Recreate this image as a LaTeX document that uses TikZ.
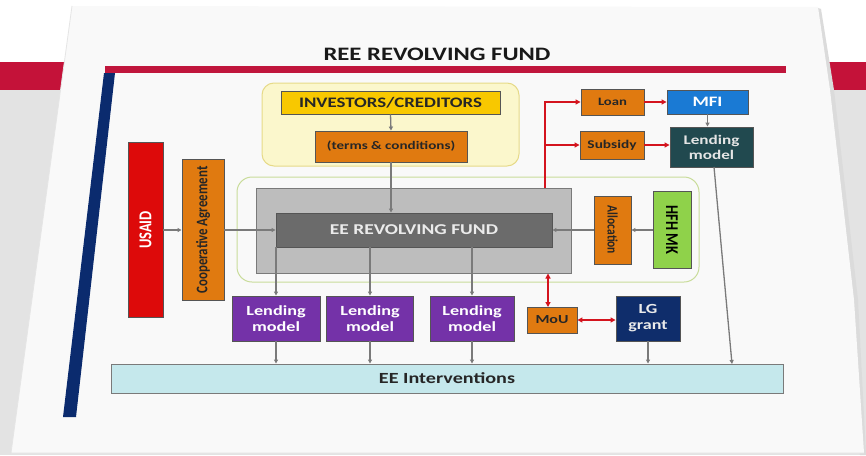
\documentclass[tikz,border=0pt]{standalone}
\usepackage{fontspec}
\setmainfont{Carlito}[FakeStretch=1.3]
\newfontfamily\rotfont{Carlito}
\usetikzlibrary{arrows.meta}
\newcommand\fsz[2]{\fontsize{#1}{#2}\selectfont}
\newcommand\vtext[2]{\rotatebox{#1}{\scalebox{1}[1.25]{#2}}}
\definecolor{bgc}{HTML}{E3E3E3}
\definecolor{bandc}{HTML}{C41239}
\definecolor{slidec}{HTML}{F9F9F9}
\definecolor{barred}{HTML}{C0163C}
\definecolor{barblue}{HTML}{0B2B6E}
\definecolor{bordc}{HTML}{555555}
\definecolor{linec}{HTML}{7A7A7A}
\definecolor{redc}{HTML}{D4141E}
\definecolor{goldc}{HTML}{F8C800}
\definecolor{orangec}{HTML}{E07A10}
\definecolor{purplec}{HTML}{7432A8}
\definecolor{tealc}{HTML}{21494F}
\definecolor{navyc}{HTML}{0F2D6B}
\definecolor{mfic}{HTML}{1A7AD4}
\definecolor{usaidc}{HTML}{DD0A0A}
\definecolor{hfhc}{HTML}{8FD24A}
\definecolor{greyc}{HTML}{BDBDBD}
\definecolor{fundc}{HTML}{6B6B6B}
\definecolor{intc}{HTML}{C5E8EC}
\definecolor{yelc}{HTML}{FBF7CC}
\definecolor{yelb}{HTML}{E6DA88}
\definecolor{grnb}{HTML}{C9DC9A}
\begin{document}
\begin{tikzpicture}[x=1pt,y=-1pt,
  box/.style={draw=bordc, line width=0.9pt, inner sep=0pt, align=center, font=\bfseries},
  garrow/.style={draw=linec, line width=1.3pt, -{Triangle[length=4pt,width=4pt]}},
  rarrow/.style={draw=redc, line width=1.5pt, -{Triangle[length=5pt,width=5pt]}},
  rdarrow/.style={draw=redc, line width=1.5pt, {Triangle[length=5pt,width=5pt]}-{Triangle[length=5pt,width=5pt]}},
  lmbox/.style={box, fill=purplec, text=white, font=\bfseries\fsz{14}{16}, minimum height=45pt},
  obox/.style={box, fill=orangec, text=black!85}
]
\useasboundingbox (0,0) rectangle (866,455);
% background
\fill[bgc] (0,0) rectangle (866,455);
\fill[white] (0,0) rectangle (866,62);
\fill[bandc] (0,62) rectangle (866,90);
% slide
\fill[black!14] (821,9) -- (834,90) -- (858,300) -- (866,455) -- (860,455) -- (850,300) -- (826,90) -- (815,7) -- cycle;
\fill[slidec] (72,6) -- (818,7) -- (830,90) -- (854,300) -- (864,453) -- (11,453) -- cycle;
\draw[black!10, line width=0.8pt] (72,6) -- (11,453) -- (864,453);
\fill[barred] (105,66) rectangle (786,73);
\fill[barblue] (104,73) -- (115,73) -- (76,417) -- (63,417) -- cycle;
\node[font=\bfseries\fsz{19}{20}, text=black!90] (title) at (437,54) {REE REVOLVING FUND};
% containers
\node[draw=yelb, fill=yelc, line width=1pt, rounded corners=12pt, minimum width=257pt, minimum height=83pt, inner sep=0pt] (yel) at (390.5,124.5) {};
\node[draw=grnb, fill=slidec, line width=1pt, rounded corners=15pt, minimum width=462pt, minimum height=105pt, inner sep=0pt] (grn) at (468,229.5) {};
\node[draw=linec, fill=greyc, line width=1pt, minimum width=315pt, minimum height=85pt, inner sep=0pt] (greybox) at (413.5,230.5) {};
% nodes
\node[box, fill=fundc, text=white!92!black, font=\bfseries\fsz{15}{16}, minimum width=276pt, minimum height=34pt] (fund) at (414,230) {EE REVOLVING FUND};
\node[box, fill=goldc, text=black!85, font=\bfseries\fsz{14.5}{16}, minimum width=219pt, minimum height=23pt] (inv) at (390.5,102.5) {INVESTORS/CREDITORS};
\node[obox, font=\bfseries\fsz{11.6}{13}, minimum width=152pt, minimum height=31pt] (terms) at (391,146.5) {(terms \& conditions)};
\node[box, fill=usaidc, text=white, minimum width=35pt, minimum height=175pt] (usaid) at (145.5,230) {\vtext{90}{\rotfont\bfseries\fsz{14.5}{15}USAID}};
\node[obox, minimum width=42pt, minimum height=141pt] (coop) at (203,230) {\vtext{90}{\rotfont\bfseries\fsz{12.9}{14}Cooperative Agreement}};
\node[obox, minimum width=37pt, minimum height=68pt] (alloc) at (612.5,230) {\vtext{-90}{\rotfont\bfseries\fsz{11.5}{13}Allocation}};
\node[box, fill=hfhc, text=black, minimum width=38pt, minimum height=77pt] (hfh) at (672,230) {\vtext{-90}{\rotfont\bfseries\fsz{14.4}{15}HFH MK}};
\node[obox, font=\bfseries\fsz{11.3}{13}, minimum width=63pt, minimum height=26pt] (loan) at (612.5,102) {Loan};
\node[obox, font=\bfseries\fsz{11.8}{13}, minimum width=64pt, minimum height=28pt] (subsidy) at (612,145) {Subsidy};
\node[box, fill=mfic, text=white, font=\bfseries\fsz{14.4}{15}, minimum width=81pt, minimum height=24pt] (mfi) at (707.5,102) {MFI};
\node[box, fill=tealc, text=white!90!black, font=\bfseries\fsz{13.2}{15}, minimum width=83pt, minimum height=40pt] (lmT) at (711.5,147) {Lending\\model};
\node[lmbox, minimum width=88pt] (lm1) at (276,318.5) {Lending\\model};
\node[lmbox, minimum width=87pt] (lm2) at (370,318.5) {Lending\\model};
\node[lmbox, minimum width=84pt] (lm3) at (472,318.5) {Lending\\model};
\node[obox, font=\bfseries\fsz{12.3}{13}, minimum width=50pt, minimum height=26pt] (mou) at (552,320) {MoU};
\node[box, fill=navyc, text=white!92!black, font=\bfseries\fsz{13.9}{16}, minimum width=64pt, minimum height=45pt] (lg) at (648,318.5) {LG\\grant};
\node[box, draw=linec, fill=intc, text=black!85, font=\bfseries\fsz{15.5}{16}, minimum width=672pt, minimum height=29pt] (eeint) at (447,378.5) {EE Interventions};
% grey connectors
\draw[garrow] (inv.south) -- (terms.north);
\draw[garrow] (terms.south) -- (terms.south |- fund.north);
\draw[garrow] (usaid.east) -- (coop.west);
\draw[garrow] (coop.east) -- (fund.west);
\draw[garrow] (hfh.west) -- (alloc.east);
\draw[garrow] (alloc.west) -- (fund.east);
\draw[garrow] (mfi.south) -- (mfi.south |- lmT.north);
\foreach \n in {lm1,lm2,lm3} {
  \draw[garrow] (\n.north |- fund.south) -- (\n.north);
  \draw[garrow] (\n.south) -- (\n.south |- eeint.north);
}
\draw[garrow] (lg.south) -- (lg.south |- eeint.north);
\coordinate (lmTout) at (714,167);
\coordinate (tend) at (732,364);
\draw[garrow] (lmTout) -- (tend);
% red connectors
\coordinate (rs) at (545,188);
\draw[rarrow] (rs) |- (loan.west);
\draw[rarrow] (rs |- subsidy.west) -- (subsidy.west);
\draw[rarrow] (loan.east) -- (loan.east -| mfi.west);
\draw[rarrow] (subsidy.east) -- (subsidy.east -| lmT.west);
\coordinate (mtop) at (548,307);
\draw[rdarrow] (mtop) -- (mtop |- greybox.south);
\draw[rdarrow] (mou.east) -- (mou.east -| lg.west);
\end{tikzpicture}
\end{document}
